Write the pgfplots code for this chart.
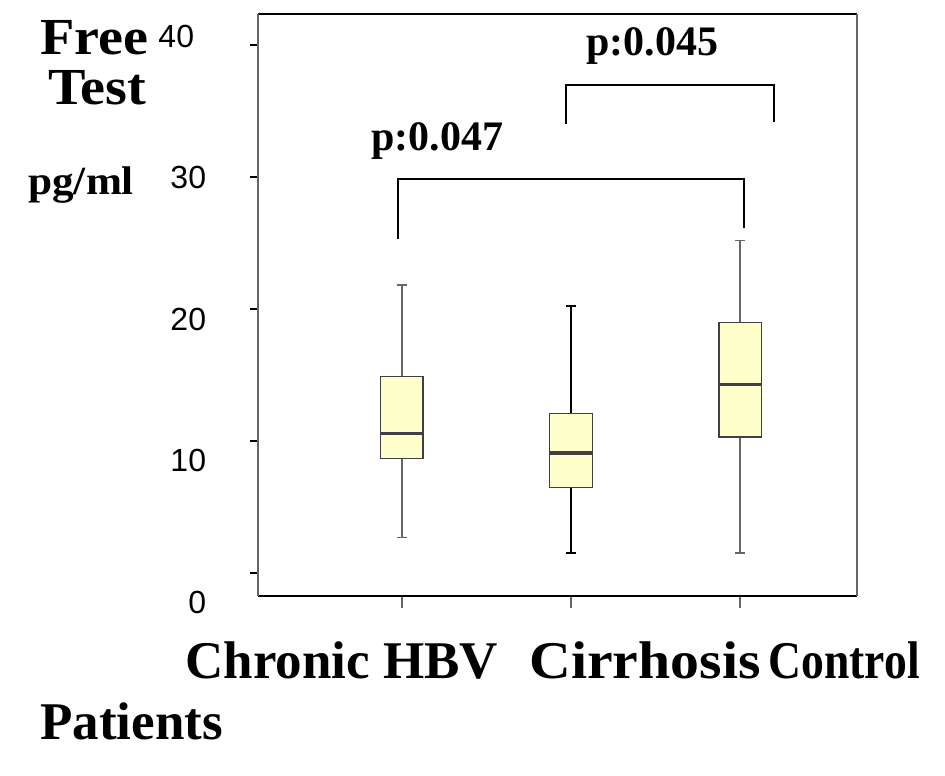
\documentclass[border=0pt]{standalone}
\usepackage{pgfplots}
\pgfplotsset{compat=1.18}
\usepgfplotslibrary{statistics}
\usepackage{fontspec}
\setmainfont{Liberation Serif}
\newfontfamily\arial{Liberation Sans}
\newfontfamily\serifW[FakeStretch=1.08]{Liberation Serif}
\definecolor{boxfill}{HTML}{FFFFCC}
\definecolor{boxedge}{HTML}{404040}
\definecolor{whisk}{HTML}{666666}
% shift a centred tick label sideways by #1
\newcommand\shiftlab[2]{\makebox[0pt][c]{\hspace*{#1}\hspace*{#1}#2}}

\begin{document}
\begin{tikzpicture}
\begin{axis}[
  scale only axis, width=299.5pt, height=291pt,
  xmin=0.15, xmax=3.69, ymin=-1.74, ymax=42.35,
  clip=false,
  separate axis lines,
  x axis line style={draw=black, line width=0.9pt},
  y axis line style={draw=black!60, line width=0.9pt},
  tick align=outside,
  xtick pos=bottom, ytick pos=left,
  xtick={1,2,3},
  xticklabels={\shiftlab{-30pt}{Chronic HBV}, \shiftlab{37pt}{\scalebox{1.09}[1]{Cirrhosis}}, \shiftlab{52pt}{\scalebox{0.86}[1]{Control}}},
  xticklabel style={font=\bfseries\fontsize{26.5}{26.5}\selectfont, anchor=north, inner sep=0pt, yshift=-18.5pt},
  xtick style={draw=whisk, line width=0.8pt, /pgfplots/major tick length=6pt},
  ytick={0,10,20,30,40},
  ytick style={draw=black, line width=0.8pt, /pgfplots/major tick length=4pt},
  /pgf/number format/assume math mode=true,
  yticklabel={\pgfmathparse{-20.2+0.475*\tick}\let\off\pgfmathresult
    \pgfmathparse{\tick>35?6:0}\let\gap\pgfmathresult
    \smash{\raisebox{\off pt}{\pgfmathprintnumber{\tick}}}\hspace*{\gap pt}},
  yticklabel style={font=\arial\fontsize{16}{16}\selectfont, anchor=east, inner sep=0pt, xshift=-21.5pt},
  every axis y label/.style={at={(axis description cs:-0.384,0.99)}, anchor=north west, align=left, inner sep=0pt,
    font=\serifW\bfseries\fontsize{26}{25}\selectfont},
  ylabel={\hspace*{6pt}Free\\\hspace*{10pt}Test\\[20pt]{\fontsize{20}{20}\selectfont pg/ml}},
  every axis x label/.style={at={(axis description cs:-0.364,-0.247)}, anchor=base west, inner sep=0pt,
    font=\bfseries\fontsize{26.5}{26.5}\selectfont},
  xlabel={Patients},
  boxplot/draw direction=y,
  boxplot/every median/.style={line width=1.6pt, draw=boxedge},
]
\addplot[boxplot prepared={draw position=1, lower whisker=2.7, lower quartile=8.7,
  median=10.6, upper quartile=14.9, upper whisker=21.8, box extend=0.25, whisker extend=0.06},
  fill=boxfill, draw=boxedge, line width=0.6pt,
  boxplot/every whisker/.style={draw=whisk, line width=0.8pt}] coordinates {};
\addplot[boxplot prepared={draw position=2, lower whisker=1.5, lower quartile=6.5,
  median=9.1, upper quartile=12.1, upper whisker=20.2, box extend=0.25, whisker extend=0.06},
  fill=boxfill, draw=boxedge, line width=0.6pt,
  boxplot/every whisker/.style={draw=black, line width=0.9pt}] coordinates {};
\addplot[boxplot prepared={draw position=3, lower whisker=1.5, lower quartile=10.3,
  median=14.3, upper quartile=19.0, upper whisker=25.2, box extend=0.25, whisker extend=0.06},
  fill=boxfill, draw=boxedge, line width=0.6pt,
  boxplot/every whisker/.style={draw=whisk, line width=0.8pt}] coordinates {};

% significance brackets
\addplot[black, line width=1pt, sharp plot] coordinates {(0.976,25.3) (0.976,29.85) (3.02,29.85) (3.02,26.1)};
\addplot[black, line width=1pt, sharp plot] coordinates {(1.97,34.0) (1.97,37.0) (3.2,37.0) (3.2,34.2)};
\node[font=\bfseries\fontsize{21}{21}\selectfont, anchor=base, inner sep=0pt] at (axis cs:1.21,32.0) {p:0.047};
\node[font=\bfseries\fontsize{21}{21}\selectfont, anchor=base, inner sep=0pt] at (axis cs:2.48,39.2) {p:0.045};
\end{axis}
\pgfresetboundingbox
\path[use as bounding box] ([xshift=-129pt,yshift=-90pt]current axis.south west)
  rectangle ([xshift=44pt,yshift=7pt]current axis.north east);
\end{tikzpicture}
\end{document}
